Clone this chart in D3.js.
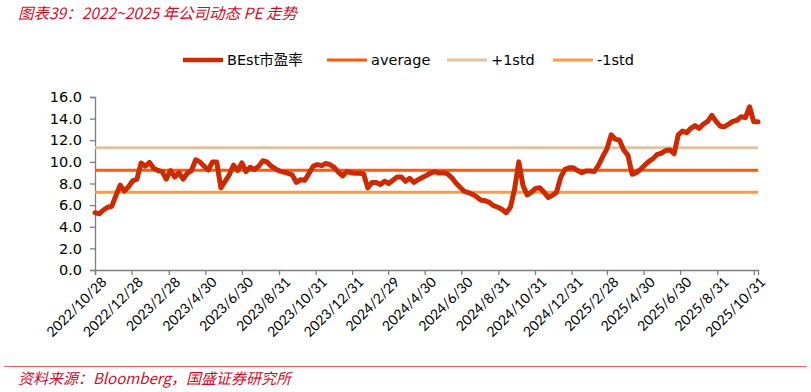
<!DOCTYPE html>
<html>
<head>
<meta charset="utf-8">
<script src="https://cdn.jsdelivr.net/npm/d3@7"></script>
<style>
  body { margin: 0; background: #fff; overflow: hidden; }
  svg { display: block; }
</style>
</head>
<body>
<div id="chart"></div>
<script>
const width = 811;
const height = 392;
const margin = {top: 97, right: 53, bottom: 122, left: 95};
const innerWidth = width - margin.left - margin.right;
const innerHeight = height - margin.top - margin.bottom;

// Weekly BEst P/E readings, first week 2022/10/28
const startDate = new Date(2022, 9, 28);
const peValues = [
  5.3, 5.2, 5.55, 5.8, 5.9, 6.9, 7.85, 7.3, 7.7, 8.25,
  8.4, 9.9, 9.6, 9.95, 9.4, 9.2, 9.1, 8.4, 9.2, 8.6,
  9.0, 8.4, 8.95, 9.2, 10.2, 10.0, 9.6, 9.25, 10.0, 10.0,
  7.6, 8.2, 8.8, 9.7, 9.2, 9.9, 9.1, 9.5, 9.3, 9.6,
  10.1, 10.0, 9.6, 9.35, 9.15, 9.05, 8.95, 8.8, 8.1, 8.35,
  8.3, 8.94, 9.6, 9.75, 9.65, 9.85, 9.75, 9.5, 9.05, 8.7,
  9.1, 9.0, 8.94, 8.94, 8.9, 7.6, 8.1, 8.1, 7.9, 8.2,
  8.0, 8.3, 8.6, 8.6, 8.2, 8.48, 8.1, 8.35, 8.55, 8.75,
  8.97, 9.1, 8.96, 9.0, 8.9, 8.55, 8.05, 7.65, 7.28, 7.15,
  7.0, 6.75, 6.45, 6.4, 6.25, 5.95, 5.8, 5.6, 5.3, 5.8,
  7.5, 10.0, 7.8, 6.95, 7.2, 7.55, 7.6, 7.2, 6.7, 6.9,
  7.2, 8.6, 9.3, 9.45, 9.45, 9.2, 9.0, 9.15, 9.15, 9.1,
  9.7, 10.5, 11.2, 12.5, 12.1, 12.0, 11.1, 10.6, 8.85, 9.0,
  9.3, 9.7, 10.05, 10.3, 10.7, 10.8, 11.05, 11.1, 10.75, 12.5,
  12.85, 12.7, 13.1, 13.35, 13.1, 13.5, 13.75, 14.3, 13.75, 13.3,
  13.25, 13.5, 13.75, 13.85, 14.18, 14.1, 15.1, 13.7, 13.7
];
const averagePE = 9.22;
const plusStdPE = 11.31;
const minusStdPE = 7.19;

const tickLabels = [
  "2022/10/28", "2022/12/28", "2023/2/28", "2023/4/30", "2023/6/30",
  "2023/8/31", "2023/10/31", "2023/12/31", "2024/2/29", "2024/4/30",
  "2024/6/30", "2024/8/31", "2024/10/31", "2024/12/31", "2025/2/28",
  "2025/4/30", "2025/6/30", "2025/8/31", "2025/10/31"
];
const yTicks = [0, 2, 4, 6, 8, 10, 12, 14, 16];

const seriesNames = ["BEst市盈率", "average", "+1std", "-1std"];
const colors = ["#cc2a00", "#ff5a0a", "#dcc5a3", "#ff9a4d"];

const parseDate = d3.timeParse("%Y/%m/%d");
const data = peValues.map((v, i) => ({date: d3.timeDay.offset(startDate, 7 * i), value: v}));

const svg = d3.select("#chart")
  .append("svg")
    .attr("width", width)
    .attr("height", height);

// Title
svg.append("text")
    .attr("x", 18)
    .attr("y", 19)
    .attr("fill", "#c8102e")
    .attr("font-family", "'Noto Sans CJK SC', sans-serif")
    .attr("font-style", "italic")
    .attr("font-size", 15.5)
    .text("图表39：2022~2025 年公司动态 PE 走势");

const innerChart = svg
  .append("g")
    .attr("transform", `translate(${margin.left}, ${margin.top})`);

// Scales
const xScale = d3.scaleTime()
  .domain([startDate, new Date(2025, 10, 7)])
  .range([0, innerWidth]);

const yScale = d3.scaleLinear()
  .domain([0, 16])
  .range([innerHeight, 0]);

// Y axis
const leftAxis = d3.axisLeft(yScale)
  .tickValues(yTicks)
  .tickSize(5)
  .tickPadding(8)
  .tickFormat(d3.format(".1f"));
const yAxis = innerChart.append("g")
    .attr("class", "axis-y")
    .call(leftAxis);
yAxis.selectAll("text")
    .attr("font-family", "'DejaVu Sans', sans-serif")
    .attr("font-size", 14.5)
    .attr("fill", "#000");

// X axis
const tickDates = tickLabels.map(parseDate);
const bottomAxis = d3.axisBottom(xScale)
  .tickValues(tickDates)
  .tickSize(5)
  .tickFormat((d, i) => tickLabels[i]);
const xAxis = innerChart.append("g")
    .attr("class", "axis-x")
    .attr("transform", `translate(0, ${innerHeight})`)
    .call(bottomAxis);
xAxis.selectAll("text")
    .attr("font-family", "Lato, sans-serif")
    .attr("font-size", 14)
    .attr("fill", "#000")
    .attr("text-anchor", "end")
    .attr("transform", "translate(5, 6) rotate(-45)")
    .attr("x", 0)
    .attr("y", 0)
    .attr("dy", "0.7em");

innerChart.selectAll(".domain, .tick line")
    .attr("stroke", "#7f7f7f")
    .attr("stroke-width", 1.3);

// Reference lines
const refLines = [
  {value: plusStdPE, color: colors[2]},
  {value: averagePE, color: colors[1]},
  {value: minusStdPE, color: colors[3]}
];
innerChart.append("g")
  .selectAll("line")
  .data(refLines)
  .join("line")
    .attr("x1", 0)
    .attr("x2", innerWidth)
    .attr("y1", d => yScale(d.value))
    .attr("y2", d => yScale(d.value))
    .attr("stroke", d => d.color)
    .attr("stroke-width", 3);

// PE line
const lineGenerator = d3.line()
  .x(d => xScale(d.date))
  .y(d => yScale(d.value));
innerChart.append("path")
    .attr("d", lineGenerator(data))
    .attr("fill", "none")
    .attr("stroke", colors[0])
    .attr("stroke-width", 5)
    .attr("stroke-linejoin", "round")
    .attr("stroke-linecap", "round");

// Legend
const legendX = [183, 327, 447, 553];
const legend = svg.append("g")
  .selectAll("g")
  .data(seriesNames)
  .join("g")
    .attr("transform", (d, i) => `translate(${legendX[i]}, 60)`);
legend.append("line")
    .attr("x1", 0)
    .attr("x2", 40)
    .attr("stroke", (d, i) => colors[i])
    .attr("stroke-width", (d, i) => i === 0 ? 4.5 : 3);
legend.append("text")
    .attr("x", 44)
    .attr("dy", "0.35em")
    .attr("font-family", "'DejaVu Sans', 'Noto Sans CJK SC', sans-serif")
    .attr("font-size", 14.5)
    .attr("fill", "#000")
    .text(d => d);

// Footer
svg.append("line")
    .attr("x1", 4)
    .attr("x2", 807)
    .attr("y1", 366.5)
    .attr("y2", 366.5)
    .attr("stroke", "#e06666")
    .attr("stroke-width", 1.2);
svg.append("text")
    .attr("x", 18)
    .attr("y", 384)
    .attr("fill", "#c8102e")
    .attr("font-family", "'Noto Sans CJK SC', sans-serif")
    .attr("font-style", "italic")
    .attr("font-size", 15)
    .text("资料来源：Bloomberg，国盛证券研究所");
</script>
</body>
</html>
